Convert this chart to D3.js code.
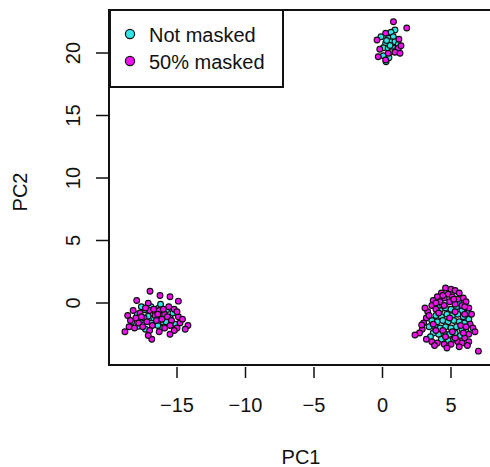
<!DOCTYPE html>
<meta charset="utf-8">
<style>
body { margin: 0; background: #fff; }
text { font-family: "Liberation Sans", Arial, sans-serif; font-size: 20px; fill: #111; }
</style>
<body>
<script src="https://d3js.org/d3.v7.min.js"></script>
<script>

var width = 490, height = 467;

// axis ticks
var xTicks = [-15, -10, -5, 0, 5];
var yTicks = [0, 5, 10, 15, 20];
var legendLabels = ["Not masked", "50% masked"];
var colors = ["#2fe6e6", "#f010f0"];

// PC1 / PC2 points, not masked
var notMasked = [
  // top cluster
  [0.91,21.84],[0.62,21.66],[-0.11,21.3],[0.42,21.18],[0.79,21.3],[0.23,20.78],[0.62,20.9],
  [0.91,20.9],[0.06,20.42],[0.42,20.38],[0.79,20.38],[1.15,20.7],[0.67,20.1],[0.06,19.78],
  [0.47,19.62],[0.26,19.3],[0.55,20.6],[1.0,20.2],[0.3,21.0],
  // left cluster
  [-17.1,-1.06],[-16.6,-0.8],[-16.12,-1.06],[-15.75,-0.54],[-15.51,-1.2],[-17.58,-1.34],
  [-16.85,-1.6],[-16.0,-1.54],[-17.34,-0.54],[-16.36,-0.42],[-16.12,-2.0],[-17.82,-1.86],
  [-17.9,-0.9],[-16.9,-0.3],[-15.3,-0.8],[-16.4,-1.8],[-17.3,-2.1],[-15.8,-1.5],[-16.7,-1.2],
  [-18.3,-1.5],[-15.1,-1.7],[-16.2,-0.1],[-17.6,-0.3],
  // right cluster
  [4.2,-0.6],[4.6,-0.4],[5.0,-0.5],[5.4,-0.3],[5.8,-0.6],[3.9,-1.0],[4.3,-1.1],[4.7,-0.9],
  [5.1,-1.0],[5.5,-0.9],[5.9,-1.1],[6.2,-0.8],[3.6,-1.4],[4.0,-1.5],[4.4,-1.4],[4.8,-1.5],
  [5.2,-1.4],[5.6,-1.5],[6.0,-1.6],[3.4,-1.9],[3.8,-1.9],[4.2,-2.0],[4.6,-1.9],[5.0,-2.0],
  [5.4,-1.9],[5.8,-2.1],[6.1,-2.3],[3.7,-2.4],[4.1,-2.5],[4.5,-2.4],[4.9,-2.5],[5.3,-2.4],
  [5.7,-2.6],[4.3,-2.9],[4.8,-3.0],[5.2,-2.9],[4.0,-0.3],[5.6,0.0],[3.5,-2.7],[6.3,-1.3]
];

// PC1 / PC2 points, 50% masked
var masked = [
  // top cluster
  [0.80,22.5],[1.77,22.0],[0.23,21.58],[-0.40,21.04],[1.15,20.38],[1.35,20.58],[0.91,20.06],
  [-0.31,19.7],[0.42,19.98],[0.23,19.44],[1.28,19.98],[1.2,21.1],[-0.2,20.3],
  // left cluster
  [-16.97,0.94],[-16.24,0.6],[-15.51,0.5],[-14.9,0.15],[-17.94,0.2],[-17.1,-0.02],[-18.8,-2.3],
  [-14.78,-1.6],[-14.2,-1.8],[-14.4,-2.1],[-15.51,-2.5],[-16.84,-2.9],[-15.0,-2.0],
  [-18.2,-0.6],[-17.7,-0.8],[-17.4,-1.2],[-17.0,-0.6],[-16.6,-1.0],[-16.3,-0.6],[-15.9,-0.9],
  [-15.6,-0.3],[-15.2,-0.5],[-18.0,-1.2],[-17.8,-1.6],[-17.2,-1.5],[-16.8,-1.8],[-16.5,-1.4],
  [-16.1,-1.3],[-15.7,-1.1],[-15.4,-1.4],[-14.9,-1.1],[-18.5,-1.9],[-17.5,-1.9],[-17.0,-2.2],
  [-16.3,-2.3],[-15.9,-2.0],[-15.2,-2.2],[-18.6,-1.0],[-17.3,-0.4],[-16.0,-0.5],[-15.0,-0.7],
  [-16.7,-0.5],[-17.6,-1.1],[-18.4,-1.4],[-16.4,-0.9],[-15.5,-1.8],[-14.6,-1.3],[-17.1,-2.6],
  [-18.1,-2.0],
  // right cluster
  [4.6,1.2],[5.0,1.1],[5.3,1.0],[4.3,0.8],[4.8,0.7],[5.6,0.8],[4.0,0.5],[4.5,0.4],[5.1,0.5],
  [5.5,0.3],[5.9,0.4],[3.7,0.2],[4.2,0.1],[4.9,0.1],[5.3,-0.1],[6.1,0.1],[3.6,-0.2],[3.9,-0.5],
  [4.5,-0.2],[5.8,-0.2],[6.3,-0.4],[3.3,-0.7],[6.5,-0.9],[3.2,-1.2],[6.4,-1.7],[3.0,-1.6],
  [6.6,-2.0],[2.9,-2.1],[6.3,-2.5],[2.7,-2.4],[6.0,-2.8],[3.2,-2.9],[5.5,-3.1],[3.6,-3.1],
  [4.0,-3.2],[4.5,-3.3],[5.0,-3.3],[5.8,-3.2],[2.37,-2.56],[2.86,-1.76],[6.75,-2.3],[7.0,-3.85],
  [6.3,-3.1],[5.3,-2.8],[4.1,-0.8],[5.3,-0.7],[4.9,-1.2],[3.7,-1.7],[5.7,-1.8],[4.4,-2.2],
  [5.1,-2.3],[3.9,-2.2],[6.0,-0.9],[4.6,-2.7],[3.4,-1.0],[5.9,-2.4],[4.7,-3.6],[5.6,-3.5],
  [3.8,-3.4],[6.2,-3.4],[4.4,0.6],[5.2,0.3],[3.9,0.0],[6.0,-0.3],[3.1,-0.4],[6.1,-1.9]
];

var x = d3.scaleLinear().domain([-15, 5]).range([177, 451]);
var y = d3.scaleLinear().domain([0, 20]).range([303, 53]);

var plot = {left: 109, top: 10, bottom: 365, right: 500};

var svg = d3.select("body").append("svg")
    .attr("width", width)
    .attr("height", height);

// points: not masked underneath, masked on top
var groups = [notMasked, masked];
groups.forEach(function(pts, gi) {
  svg.append("g").selectAll("circle")
    .data(pts)
    .enter()
    .append("circle")
    .attr("cx", function(d){ return x(d[0]); })
    .attr("cy", function(d){ return y(d[1]); })
    .attr("r", 2.9)
    .attr("fill", colors[gi])
    .attr("stroke", "#111")
    .attr("stroke-width", 1.1);
});

// box
svg.append("rect")
  .attr("x", plot.left).attr("y", plot.top)
  .attr("width", plot.right - plot.left).attr("height", plot.bottom - plot.top)
  .attr("fill", "none").attr("stroke", "#111").attr("stroke-width", 2);

// x axis ticks and labels
var xa = svg.append("g");
xa.selectAll("line").data(xTicks).enter().append("line")
  .attr("x1", function(d){ return x(d); }).attr("x2", function(d){ return x(d); })
  .attr("y1", plot.bottom + 2).attr("y2", plot.bottom + 13)
  .attr("stroke", "#111").attr("stroke-width", 1.5);
xa.selectAll("text").data(xTicks).enter().append("text")
  .attr("x", function(d){ return x(d); })
  .attr("y", 412)
  .attr("text-anchor", "middle")
  .text(function(d){ return d < 0 ? "\u2212" + Math.abs(d) : d; });

// y axis ticks and labels
var ya = svg.append("g");
ya.selectAll("line").data(yTicks).enter().append("line")
  .attr("x1", plot.left - 13).attr("x2", plot.left)
  .attr("y1", function(d){ return y(d); }).attr("y2", function(d){ return y(d); })
  .attr("stroke", "#111").attr("stroke-width", 1.5);
ya.selectAll("text").data(yTicks).enter().append("text")
  .attr("transform", function(d){ return "translate(80," + y(d) + ") rotate(-90)"; })
  .attr("text-anchor", "middle")
  .text(function(d){ return d; });

// axis titles
svg.append("text").attr("x", 301).attr("y", 464).attr("text-anchor", "middle").text("PC1");
svg.append("text").attr("transform", "translate(27,192) rotate(-90)")
  .attr("text-anchor", "middle").text("PC2");

// legend
var lg = svg.append("g");
lg.append("rect").attr("x", 110).attr("y", 10).attr("width", 173).attr("height", 77)
  .attr("fill", "#fff").attr("stroke", "#111").attr("stroke-width", 2);
legendLabels.forEach(function(l, i) {
  lg.append("circle").attr("cx", 130).attr("cy", 34 + i * 27).attr("r", 4.6)
    .attr("fill", colors[i]).attr("stroke", "#111").attr("stroke-width", 1.2);
  lg.append("text").attr("x", 149).attr("y", 42 + i * 27).text(l);
});

</script>
